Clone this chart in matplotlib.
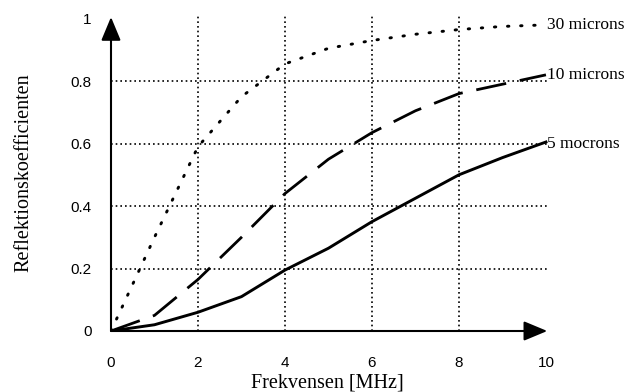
import matplotlib
matplotlib.use('Agg')
import matplotlib.pyplot as plt

# frekvens i MHz och reflektionskoefficient for tre partikelstorlekar
freq = [0, 1, 2, 3, 4, 5, 6, 7, 8, 9, 10]
r_30 = [0, 0.30, 0.59, 0.75, 0.855, 0.905, 0.93, 0.95, 0.965, 0.975, 0.98]
r_10 = [0, 0.05, 0.165, 0.30, 0.44, 0.55, 0.635, 0.705, 0.76, 0.79, 0.82]
r_5 = [0, 0.02, 0.06, 0.11, 0.195, 0.265, 0.35, 0.425, 0.50, 0.555, 0.605]
curve_names = ['30 microns', '10 microns', '5 mocrons']

xticks = [0, 2, 4, 6, 8, 10]
yticks = [0, 0.2, 0.4, 0.6, 0.8, 1]
ytick_labels = ['0', '0.2', '0.4', '0.6', '0.8', '1']

serif = 'Liberation Serif'
sans = 'Liberation Sans'

fig = plt.figure(figsize=(6.24, 3.92), dpi=100)
ax = fig.add_axes([111 / 624, 61 / 392, 448 / 624, 328 / 392])
ax.set_xlim(0, 10.3)
ax.set_ylim(0, 1.05)
for s in ax.spines.values():
    s.set_visible(False)

# prickat rutnat
grid_kw = dict(color='black', lw=1.2, linestyle=(0, (1, 1.8)), zorder=1)
ax.vlines(xticks[1:-1], 0, 1.01, **grid_kw)
ax.hlines(yticks[1:-1], 0, 10.03, **grid_kw)

# axlar med pilar
arrow_kw = dict(arrowstyle='-|>,head_length=1.2,head_width=0.5', color='black',
                lw=1.5, shrinkA=0, shrinkB=0, mutation_scale=12)
ax.annotate('', xy=(10.03, 0), xytext=(0, 0), arrowprops=arrow_kw,
            annotation_clip=False)
ax.annotate('', xy=(0, 1.005), xytext=(0, 0), arrowprops=arrow_kw,
            annotation_clip=False)

ax.plot(freq, r_30, color='black', lw=2.1, linestyle=(0, (0.5, 4.0)),
        dash_capstyle='round', zorder=3)
ax.plot(freq, r_10, color='black', lw=2.0, linestyle=(0, (11, 5)), zorder=3)
ax.plot(freq, r_5, color='black', lw=2.1, zorder=3)

for name, ys, dy in zip(curve_names, [r_30, r_10, r_5], [0, 0, -0.005]):
    ax.text(10.02, ys[-1] + dy, name, family=serif, fontsize=12.5,
            va='center', ha='left')

ax.set_xticks(xticks)
ax.set_xticklabels([str(t) for t in xticks])
ax.set_yticks(yticks)
ax.set_yticklabels(ytick_labels)
ax.tick_params(length=0, labelsize=11, pad=18)
ax.tick_params(axis='y', pad=14)
for lab in ax.get_xticklabels() + ax.get_yticklabels():
    lab.set_family(sans)

fig.text(327 / 624, 1 - 383 / 392, 'Frekvensen [MHz]', family=serif,
         fontsize=14.5, ha='center', va='center')
fig.text(24 / 624, 1 - 173 / 392, 'Reflektionskoefficienten', family=serif,
         fontsize=14.5, ha='center', va='center', rotation=90)

fig.savefig('out.png', dpi=100)
